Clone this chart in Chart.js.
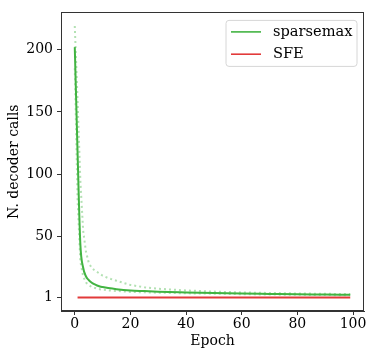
<!DOCTYPE html>
<html>
<head>
<meta charset="utf-8">
<script src="https://cdn.jsdelivr.net/npm/chart.js@4"></script>
<style>
html,body{margin:0;padding:0;background:#fff;}
#wrap{width:374px;height:358px;}
</style>
</head>
<body>
<div id="wrap"><canvas id="c" width="374" height="358"></canvas></div>
<script>
// Data
const epochs       = [0, 1, 2, 3, 4, 5, 6, 7, 8, 9, 10, 12, 15, 20, 25, 30, 40, 50, 60, 70, 80, 90, 99];
const sparsemaxMean  = [202, 118, 44, 25, 18, 15, 13, 11.6, 10.6, 9.8, 9.3, 8.5, 7.6, 6.6, 6.1, 5.6, 5.0, 4.5, 4.1, 3.8, 3.5, 3.3, 3.1];
const sparsemaxUpper = [219, 160, 95, 55, 38, 29, 25, 23, 21.5, 20, 18.5, 16.5, 14.4, 11, 9.2, 8.0, 6.6, 5.7, 5.0, 4.6, 4.2, 3.9, 3.7];
const sparsemaxLower = [185, 80, 30, 18, 13, 11, 9.5, 8.8, 8.2, 7.6, 7.2, 6.7, 6.2, 5.4, 5.1, 4.8, 4.3, 4.0, 3.6, 3.3, 3.1, 2.9, 2.7];
const sfeEpochs = [1, 99];
const sfeValues = [1, 1];
const xTickValues = [0, 20, 40, 60, 80, 100];
const yTickValues = [1, 50, 100, 150, 200];
const seriesNames = ['sparsemax', 'SFE'];

const GREEN = '#42b442';
const GREEN_LIGHT = 'rgba(66,180,66,0.4)';
const RED = '#e23a3a';
const FONT = "'DejaVu Serif', serif";

const pts = (xs, ys) => xs.map((x, i) => ({x: x, y: ys[i]}));

const legendPlugin = {
  id: 'innerLegend',
  afterDraw(chart) {
    const ctx = chart.ctx, ca = chart.chartArea;
    const items = seriesNames.map(n => chart.data.datasets.find(d => d.label === n));
    const bx = ca.right - 138, by = ca.top + 8, bw = 131, bh = 46, r = 3;
    ctx.save();
    ctx.beginPath();
    ctx.moveTo(bx + r, by);
    ctx.arcTo(bx + bw, by, bx + bw, by + bh, r);
    ctx.arcTo(bx + bw, by + bh, bx, by + bh, r);
    ctx.arcTo(bx, by + bh, bx, by, r);
    ctx.arcTo(bx, by, bx + bw, by, r);
    ctx.closePath();
    ctx.fillStyle = 'rgba(255,255,255,0.8)';
    ctx.fill();
    ctx.strokeStyle = '#d6d6d6';
    ctx.lineWidth = 1;
    ctx.stroke();
    ctx.font = '14.6px ' + FONT;
    ctx.textBaseline = 'middle';
    ctx.textAlign = 'left';
    items.forEach((d, i) => {
      const y = by + 11.5 + i * 22.3;
      ctx.beginPath();
      ctx.strokeStyle = d.borderColor;
      ctx.lineWidth = 1.6;
      ctx.moveTo(bx + 5, y);
      ctx.lineTo(bx + 35, y);
      ctx.stroke();
      ctx.fillStyle = '#000';
      ctx.fillText(d.label, bx + 47, y);
    });
    ctx.restore();
  }
};

const framePlugin = {
  id: 'frame',
  afterDatasetsDraw(chart) {
    const ctx = chart.ctx, ca = chart.chartArea;
    ctx.save();
    ctx.strokeStyle = '#333';
    ctx.lineWidth = 1;
    ctx.strokeRect(Math.round(ca.left) + 0.5, Math.round(ca.top) + 0.5,
                   Math.round(ca.right - ca.left) - 1, Math.round(ca.bottom - ca.top) - 1);
    ctx.restore();
  }
};

new Chart(document.getElementById('c'), {
  type: 'line',
  data: {
    datasets: [
      {label: 'upper', data: pts(epochs, sparsemaxUpper), borderColor: GREEN_LIGHT, borderWidth: 2, borderDash: [2, 3], pointRadius: 0, tension: 0, fill: false},
      {label: 'lower', data: pts(epochs, sparsemaxLower), borderColor: GREEN_LIGHT, borderWidth: 2, borderDash: [2, 3], pointRadius: 0, tension: 0, fill: false},
      {label: seriesNames[1], data: pts(sfeEpochs, sfeValues), borderColor: RED, borderWidth: 2, pointRadius: 0, tension: 0, fill: false},
      {label: seriesNames[0], data: pts(epochs, sparsemaxMean), borderColor: GREEN, borderWidth: 2, pointRadius: 0, cubicInterpolationMode: 'monotone', fill: false}
    ]
  },
  options: {
    responsive: false,
    animation: false,
    devicePixelRatio: 1,
    layout: {padding: {top: 7, right: 10, left: 0, bottom: 0}},
    plugins: {
      legend: {display: false},
      tooltip: {enabled: false}
    },
    scales: {
      x: {
        type: 'linear',
        min: -4.95, max: 103.95,
        afterBuildTicks: (s) => { s.ticks = xTickValues.map(v => ({value: v})); },
        afterFit: (s) => { s.height = 47; },
        ticks: {font: {family: FONT, size: 14}, color: '#000', padding: 1, maxRotation: 0,
                callback: (v) => String(v)},
        grid: {drawOnChartArea: false, tickLength: 4, color: '#333'},
        border: {display: true, color: '#333'},
        title: {display: true, text: 'Epoch', font: {family: FONT, size: 14}, color: '#000', padding: {top: 0, bottom: 8}}
      },
      y: {
        type: 'linear',
        min: -9.9, max: 229.9,
        afterBuildTicks: (s) => { s.ticks = yTickValues.map(v => ({value: v})); },
        afterFit: (s) => { s.width = 61; },
        ticks: {font: {family: FONT, size: 14}, color: '#000', padding: 4,
                callback: (v) => String(v)},
        grid: {drawOnChartArea: false, tickLength: 4, color: '#333'},
        border: {display: true, color: '#333'},
        title: {display: true, text: 'N. decoder calls', font: {family: FONT, size: 14}, color: '#000', padding: {top: 6, bottom: 0}}
      }
    }
  },
  plugins: [framePlugin, legendPlugin]
});
</script>
</body>
</html>
